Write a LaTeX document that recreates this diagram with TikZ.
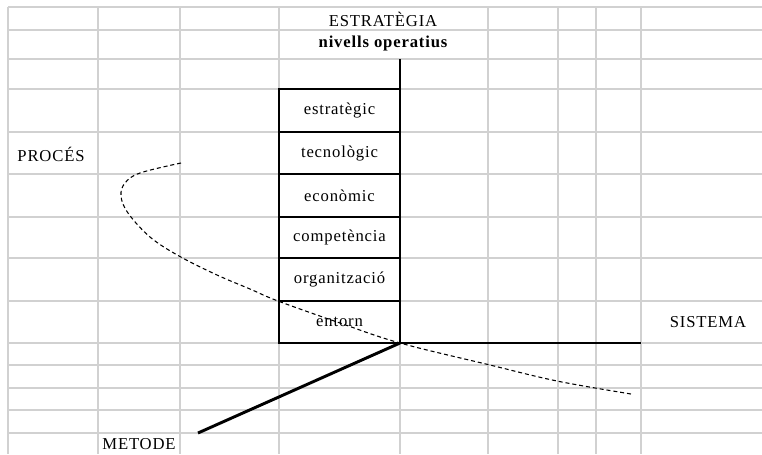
\documentclass[tikz,border=0pt]{standalone}
\usepackage{fontspec}
\setmainfont{Liberation Serif}[LetterSpace=5]
\begin{document}
\begin{tikzpicture}[x=0.75pt,y=-0.75pt,
  grid/.style={draw=black!18,line width=1.1pt},
  cellbox/.style={draw=black,line width=0.9pt,minimum width=121*0.75pt,minimum height=42*0.75pt,inner sep=0pt,font=\fontsize{12.5pt}{14pt}\selectfont},
  lab/.style={inner sep=0pt,font=\fontsize{12.5pt}{14pt}\selectfont},
  axis/.style={line width=2.2pt,black},
  curve/.style={black,line width=0.8pt,dash pattern=on 3pt off 2.2pt}]
\useasboundingbox (0,0) rectangle (762,454);
\fill[white] (0,0) rectangle (762,454);
% grid
\foreach \y in {7,30,59,89,132,174,217,258,301,343,365,388,410,433}
  \draw[grid] (8,\y) -- (762,\y);
\foreach \x in {8,98,180,279,488,558,596,641}
  \draw[grid] (\x,7) -- (\x,454);
\draw[grid] (400,59) -- (400,454);
% titles
\node[lab] (t1) at (383,19) {ESTRATÈGIA};
\node[lab,font=\fontsize{12.5pt}{14pt}\selectfont\bfseries] (t2) at (383,43) {nivells operatius};
\node[lab] (proc) at (51,154) {PROCÉS};
\node[lab] (sist) at (708,322) {SISTEMA};
\node[lab] (met) at (139,444) {METODE};
% box column
\node[cellbox,minimum height=43*0.75pt] (c1) at (339.5,110.5) {estratègic};
\node[cellbox] (c2) at (339.5,153) {tecnològic};
\node[cellbox,minimum height=43*0.75pt] (c3) at (339.5,195.5) {econòmic};
\node[cellbox,minimum height=41*0.75pt] (c4) at (339.5,237.5) {competència};
\node[cellbox,minimum height=43*0.75pt] (c5) at (339.5,279.5) {organització};
\node[cellbox] (c6) at (339.5,322) {entorn};
% axes
\coordinate (o) at (400,343);
\coordinate (top) at (400,59);
\coordinate (right) at (641,343);
\coordinate (left) at (198,433);
\draw[axis] (top) -- (o) -- (right);
\draw[axis] (o) -- (left);
% dashed curve
\draw[curve] plot[smooth,tension=0.6] coordinates {(181,163) (140,173) (125,183) (121,196) (128,213) (150,237) (179,256) (217,275) (250,289) (278,301) (340,323) (400,343) (490,365) (557,381) (631,394)};
\end{tikzpicture}
\end{document}
